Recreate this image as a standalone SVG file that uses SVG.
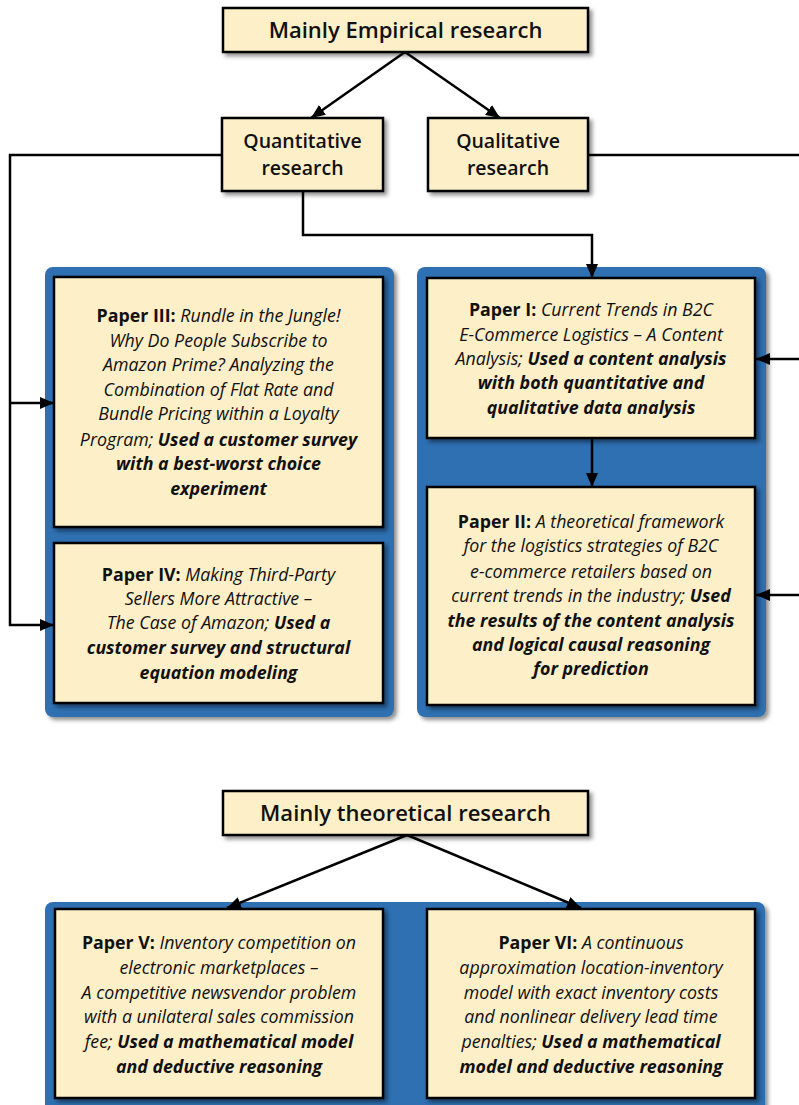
<svg xmlns="http://www.w3.org/2000/svg" width="799" height="1105" viewBox="0 0 799 1105">
  <defs>
    <filter id="shadow" x="-10%" y="-10%" width="130%" height="130%">
      <feDropShadow dx="3" dy="3" stdDeviation="2.2" flood-color="#000" flood-opacity="0.45"/>
    </filter>
    <marker id="arrow" markerUnits="userSpaceOnUse" markerWidth="14" markerHeight="12" viewBox="0 0 14 12" refX="14" refY="6" orient="auto">
      <path d="M0,0 L14,6 L0,12 Z" fill="#000"/>
    </marker>
    <style>
      .panel { fill: #2f70b2; filter: url(#shadow); }
      .box { fill: #fdefc8; stroke: #000; stroke-width: 2.5; filter: url(#shadow); }
      .head { font-family: "Open Sans", "Liberation Sans", sans-serif; font-weight: 600; fill: #111; text-anchor: middle; }
      .body { font-family: "Open Sans", "Liberation Sans", sans-serif; font-size: 17.8px; font-style: italic; fill: #111; text-anchor: middle; }
      .b { font-weight: bold; }
      .conn { fill: none; stroke: #000; stroke-width: 2.5; }
    </style>
  </defs>

  <rect width="799" height="1105" fill="#fff"/>

  <!-- blue panels -->
  <g id="panels">
    <rect class="panel" x="45" y="267" width="349" height="450" rx="8"/>
    <rect class="panel" x="417" y="267" width="349" height="450" rx="8"/>
    <rect class="panel" x="45" y="902" width="720" height="220" rx="8"/>
  </g>

  <!-- connectors -->
  <g id="connectors">
    <line class="conn" x1="405" y1="52" x2="311" y2="118" marker-end="url(#arrow)"/>
    <line class="conn" x1="405" y1="52" x2="500" y2="118" marker-end="url(#arrow)"/>
    <polyline class="conn" points="222,155 10,155 10,625 54,625" marker-end="url(#arrow)"/>
    <polyline class="conn" points="10,403 54,403" marker-end="url(#arrow)"/>
    <polyline class="conn" points="303,191 303,235 592,235 592,278" marker-end="url(#arrow)"/>
    <line class="conn" x1="588" y1="155" x2="799" y2="155"/>
    <line class="conn" x1="799" y1="359" x2="756" y2="359" marker-end="url(#arrow)"/>
    <line class="conn" x1="799" y1="595" x2="756" y2="595" marker-end="url(#arrow)"/>
    <line class="conn" x1="592" y1="438" x2="592" y2="487" marker-end="url(#arrow)"/>
    <line class="conn" x1="407" y1="835" x2="227" y2="908" marker-end="url(#arrow)"/>
    <line class="conn" x1="407" y1="835" x2="581" y2="908" marker-end="url(#arrow)"/>
  </g>

  <g id="empirical">
    <rect class="box" x="223" y="8" width="365" height="44"/>
    <text class="head" x="405.5" y="38" font-size="22">Mainly Empirical research</text>
  </g>

  <g id="quantitative">
    <rect class="box" x="222" y="118" width="161" height="73"/>
    <text class="head" x="302.5" y="148" font-size="19.5">Quantitative</text>
    <text class="head" x="302.5" y="175" font-size="19.5">research</text>
  </g>

  <g id="qualitative">
    <rect class="box" x="428" y="118" width="160" height="73"/>
    <text class="head" x="508" y="148" font-size="19.5">Qualitative</text>
    <text class="head" x="508" y="175" font-size="19.5">research</text>
  </g>

  <g id="paper3">
    <rect class="box" x="54" y="277" width="329" height="250"/>
    <text class="body" x="218.5" y="322"><tspan class="b" font-style="normal">Paper III:</tspan> Rundle in the Jungle!</text>
    <text class="body" x="218.5" y="347">Why Do People Subscribe to</text>
    <text class="body" x="218.5" y="371">Amazon Prime? Analyzing the</text>
    <text class="body" x="218.5" y="396">Combination of Flat Rate and</text>
    <text class="body" x="218.5" y="420">Bundle Pricing within a Loyalty</text>
    <text class="body" x="218.5" y="446">Program; <tspan class="b">Used a customer survey</tspan></text>
    <text class="body b" x="218.5" y="470">with a best-worst choice</text>
    <text class="body b" x="218.5" y="495">experiment</text>
  </g>

  <g id="paper4">
    <rect class="box" x="54" y="543" width="329" height="160"/>
    <text class="body" x="218.5" y="581"><tspan class="b" font-style="normal">Paper IV:</tspan> Making Third-Party</text>
    <text class="body" x="218.5" y="605">Sellers More Attractive –</text>
    <text class="body" x="218.5" y="629">The Case of Amazon; <tspan class="b">Used a</tspan></text>
    <text class="body b" x="218.5" y="654">customer survey and structural</text>
    <text class="body b" x="218.5" y="679">equation modeling</text>
  </g>

  <g id="paper1">
    <rect class="box" x="427" y="278" width="328" height="160"/>
    <text class="body" x="591" y="316"><tspan class="b" font-style="normal">Paper I:</tspan> Current Trends in B2C</text>
    <text class="body" x="591" y="341">E-Commerce Logistics – A Content</text>
    <text class="body" x="591" y="365">Analysis; <tspan class="b">Used a content analysis</tspan></text>
    <text class="body b" x="591" y="389">with both quantitative and</text>
    <text class="body b" x="591" y="414">qualitative data analysis</text>
  </g>

  <g id="paper2">
    <rect class="box" x="427" y="487" width="328" height="218"/>
    <text class="body" x="591" y="528"><tspan class="b" font-style="normal">Paper II:</tspan> A theoretical framework</text>
    <text class="body" x="591" y="552">for the logistics strategies of B2C</text>
    <text class="body" x="591" y="578">e-commerce retailers based on</text>
    <text class="body" x="591" y="602">current trends in the industry; <tspan class="b">Used</tspan></text>
    <text class="body b" x="591" y="627">the results of the content analysis</text>
    <text class="body b" x="591" y="651">and logical causal reasoning</text>
    <text class="body b" x="591" y="675">for prediction</text>
  </g>

  <g id="theoretical">
    <rect class="box" x="223" y="791" width="365" height="44"/>
    <text class="head" x="405.5" y="821" font-size="22">Mainly theoretical research</text>
  </g>

  <g id="paper5">
    <rect class="box" x="55" y="909" width="328" height="189"/>
    <text class="body" x="219" y="949"><tspan class="b" font-style="normal">Paper V:</tspan> Inventory competition on</text>
    <text class="body" x="219" y="974">electronic marketplaces –</text>
    <text class="body" x="219" y="999">A competitive newsvendor problem</text>
    <text class="body" x="219" y="1023">with a unilateral sales commission</text>
    <text class="body" x="219" y="1048">fee; <tspan class="b">Used a mathematical model</tspan></text>
    <text class="body b" x="219" y="1073">and deductive reasoning</text>
  </g>

  <g id="paper6">
    <rect class="box" x="427" y="909" width="328" height="189"/>
    <text class="body" x="591" y="949"><tspan class="b" font-style="normal">Paper VI:</tspan> A continuous</text>
    <text class="body" x="591" y="974">approximation location-inventory</text>
    <text class="body" x="591" y="999">model with exact inventory costs</text>
    <text class="body" x="591" y="1023">and nonlinear delivery lead time</text>
    <text class="body" x="591" y="1048">penalties; <tspan class="b">Used a mathematical</tspan></text>
    <text class="body b" x="591" y="1073">model and deductive reasoning</text>
  </g>
</svg>
